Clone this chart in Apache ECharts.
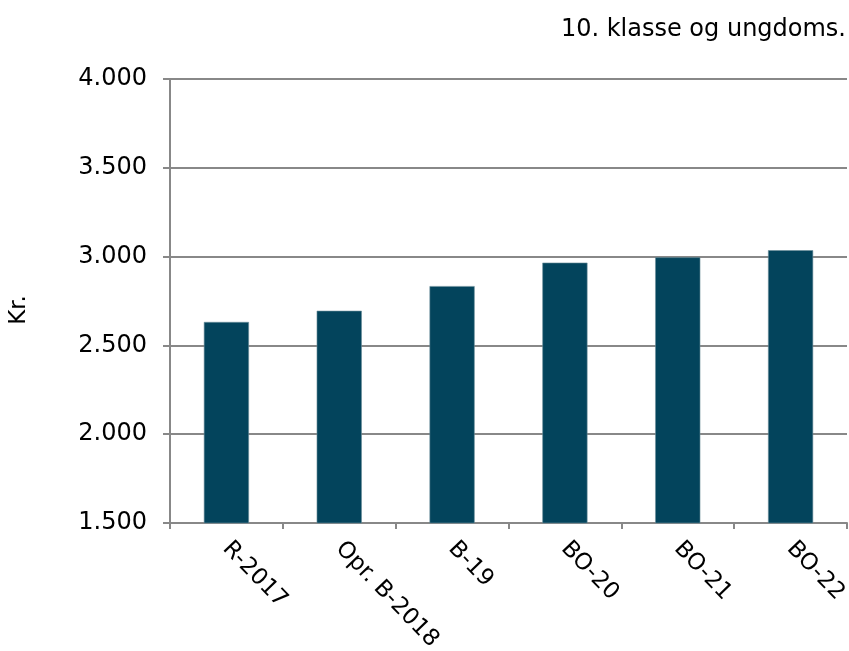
<!DOCTYPE html>
<html>
<head>
<meta charset="utf-8">
<script src="https://cdn.jsdelivr.net/npm/echarts@6/dist/echarts.min.js"></script>
<style>
  html, body { margin: 0; padding: 0; background: #fff; }
  #chart { width: 849px; height: 651px; }
</style>
</head>
<body>
<div id="chart"></div>
<script>
// kategorier og verdier
var categories = ['R-2017', 'Opr. B-2018', 'B-19', 'BO-20', 'BO-21', 'BO-22']
var values = [2632, 2695, 2834, 2966, 2996, 3036]
var yMin = 1500
var yMax = 4000
var yStep = 500

var chart = echarts.init(document.getElementById('chart'))
var font = 'DejaVu Sans'
var option = {
  animation: false,
  title: {
    text: '10. klasse og ungdoms.',
    right: 3,
    top: 18,
    padding: 0,
    textStyle: {
      fontFamily: font,
      fontSize: 24,
      fontWeight: 'normal',
      color: '#000'
    }
  },
  grid: {
    left: 170,
    right: 2,
    top: 79,
    bottom: 128,
    outerBoundsMode: 'none',
    containLabel: false
  },
  // 横坐标
  xAxis: {
    type: 'category',
    data: categories,
    axisLine: {
      lineStyle: { color: '#888', width: 2 }
    },
    axisTick: {
      show: true,
      length: 6,
      lineStyle: { color: '#888', width: 2 }
    },
    axisLabel: {
      interval: 0,
      rotate: -46,
      margin: 22,
      fontFamily: font,
      fontSize: 23,
      color: '#000'
    }
  },
  // 纵坐标
  yAxis: {
    type: 'value',
    min: yMin,
    max: yMax,
    interval: yStep,
    name: 'Kr.',
    nameLocation: 'middle',
    nameRotate: 90,
    nameGap: 139,
    nameTextStyle: {
      fontFamily: font,
      fontSize: 23,
      color: '#000',
      padding: [0, 18, 0, 0]
    },
    axisLine: {
      show: true,
      lineStyle: { color: '#888', width: 2 }
    },
    axisTick: {
      show: true,
      length: 7,
      lineStyle: { color: '#888', width: 2 }
    },
    axisLabel: {
      margin: 23,
      fontFamily: font,
      fontSize: 24,
      color: '#000',
      formatter: function(v) {
        return String(v).replace(/\B(?=(\d{3})+(?!\d))/g, '.')
      }
    },
    splitLine: {
      lineStyle: { color: '#888', width: 2 }
    }
  },
  series: [{
    type: 'bar',
    data: values,
    barWidth: '40%',
    itemStyle: {
      color: '#03445c',
      borderColor: '#6b8e9b',
      borderWidth: 0.6
    }
  }]
}
chart.setOption(option)
</script>
</body>
</html>
